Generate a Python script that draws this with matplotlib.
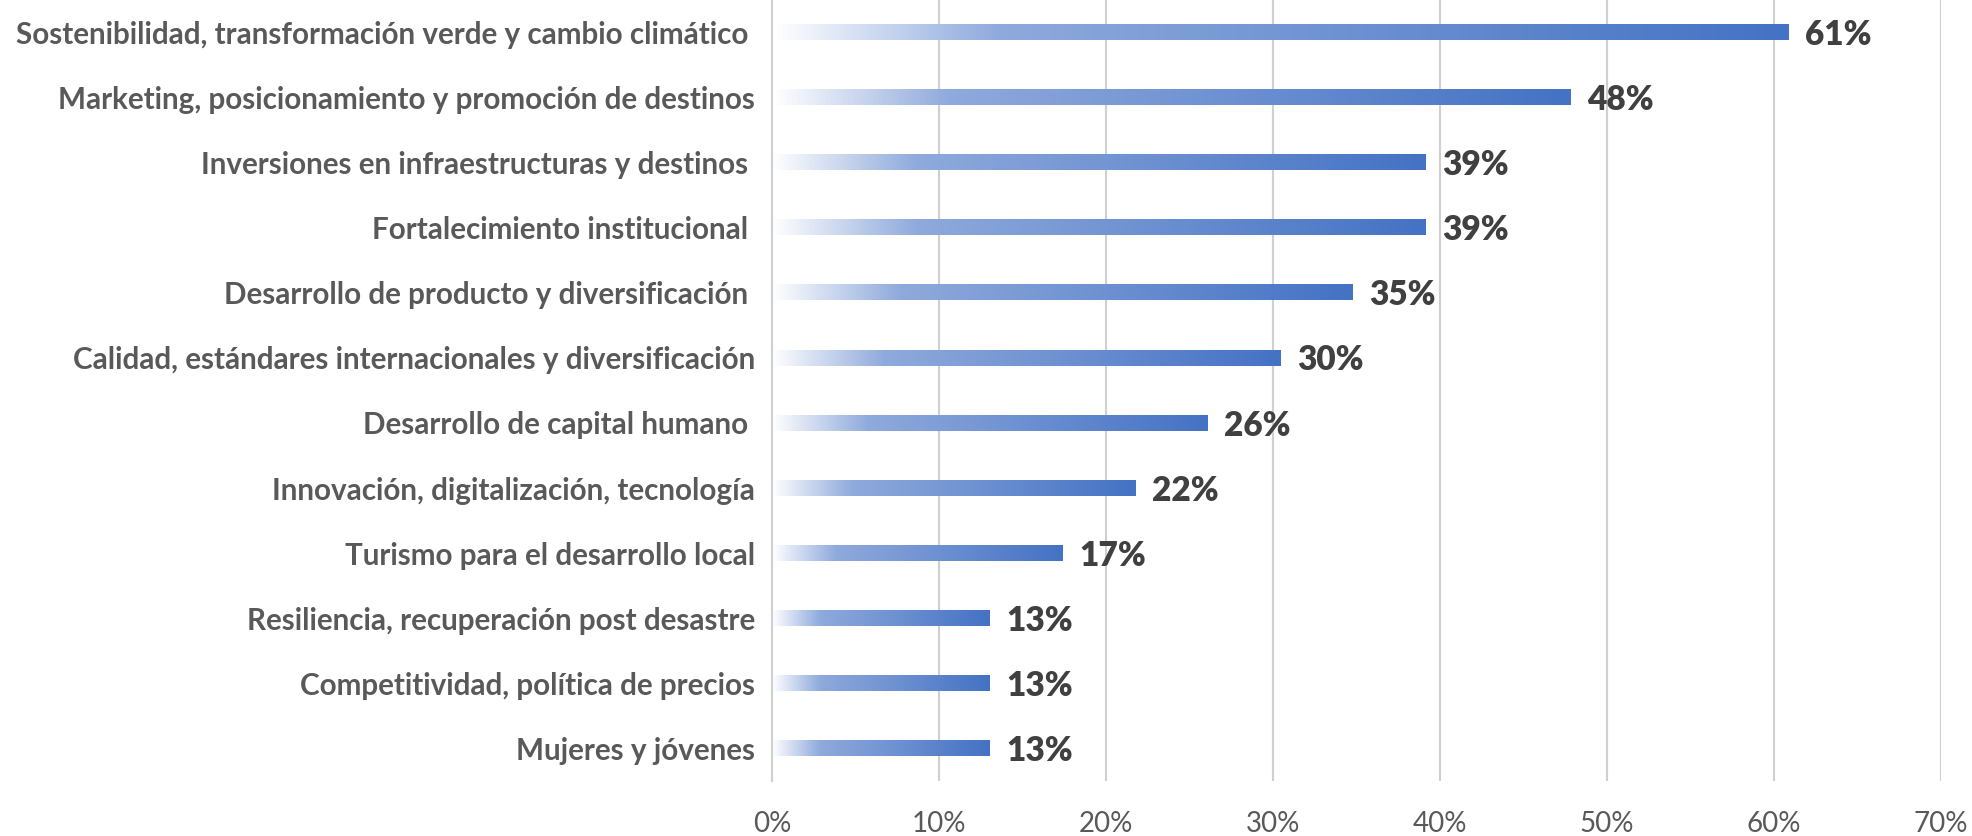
"""Prioridades temáticas: barras horizontales con degradado."""
import matplotlib

matplotlib.use("Agg")
import matplotlib.pyplot as plt
import numpy as np
from matplotlib.colors import LinearSegmentedColormap
from matplotlib.ticker import FuncFormatter, MultipleLocator

# Datos (de arriba hacia abajo)
categories = [
    "Sostenibilidad, transformación verde y cambio climático ",
    "Marketing, posicionamiento y promoción de destinos",
    "Inversiones en infraestructuras y destinos ",
    "Fortalecimiento institucional ",
    "Desarrollo de producto y diversificación ",
    "Calidad, estándares internacionales y diversificación",
    "Desarrollo de capital humano ",
    "Innovación, digitalización, tecnología",
    "Turismo para el desarrollo local",
    "Resiliencia, recuperación post desastre",
    "Competitividad, política de precios",
    "Mujeres y jóvenes",
]
counts = [14, 11, 9, 9, 8, 7, 6, 5, 4, 3, 3, 3]
total = 23
values = [c / total for c in counts]

BLUE = "#4472C4"
LABEL_GRAY = "#595959"
VALUE_GRAY = "#404040"
FONT = ["Lato", "DejaVu Sans"]

plt.rcParams["font.family"] = FONT

grad = LinearSegmentedColormap.from_list(
    "fade", [(0.0, "#FFFFFF"), (0.22, "#8FAADC"), (1.0, BLUE)]
)
ramp = np.linspace(0, 1, 256).reshape(1, -1)

fig = plt.figure(figsize=(19.72, 8.36), dpi=100)
ax = fig.add_axes([0.3915, 0.066, 0.5928, 0.934])

bar_h = 0.235
for i, v in enumerate(values):
    ax.imshow(ramp, cmap=grad, aspect="auto", interpolation="bilinear",
              extent=[0, v, i + bar_h / 2, i - bar_h / 2], zorder=2)
    ax.text(v + 0.01, i + 0.04, f"{v:.0%}", va="center", ha="left",
            fontsize=24, fontweight="heavy", color=VALUE_GRAY)

ax.set_xlim(0, 0.7)
ax.set_ylim(len(categories) - 0.5, -0.5)
ax.set_aspect("auto")

ax.set_yticks(range(len(categories)))
ax.set_yticklabels(categories, fontsize=21.3, fontweight="bold", color=LABEL_GRAY)
ax.xaxis.set_major_locator(MultipleLocator(0.1))
ax.xaxis.set_major_formatter(FuncFormatter(lambda x, _: f"{x:.0%}"))
ax.tick_params(axis="x", length=0, pad=22, labelsize=20, labelcolor=LABEL_GRAY)
ax.tick_params(axis="y", length=0, pad=12)

ax.grid(axis="x", color="#D0D0D0", linewidth=1.5, zorder=0)
ax.set_axisbelow(True)
for side in ["top", "right", "bottom"]:
    ax.spines[side].set_visible(False)
ax.spines["left"].set_color("#D0D0D0")
ax.spines["left"].set_linewidth(1.5)

fig.savefig("out.png", dpi=100)
plt.close(fig)
